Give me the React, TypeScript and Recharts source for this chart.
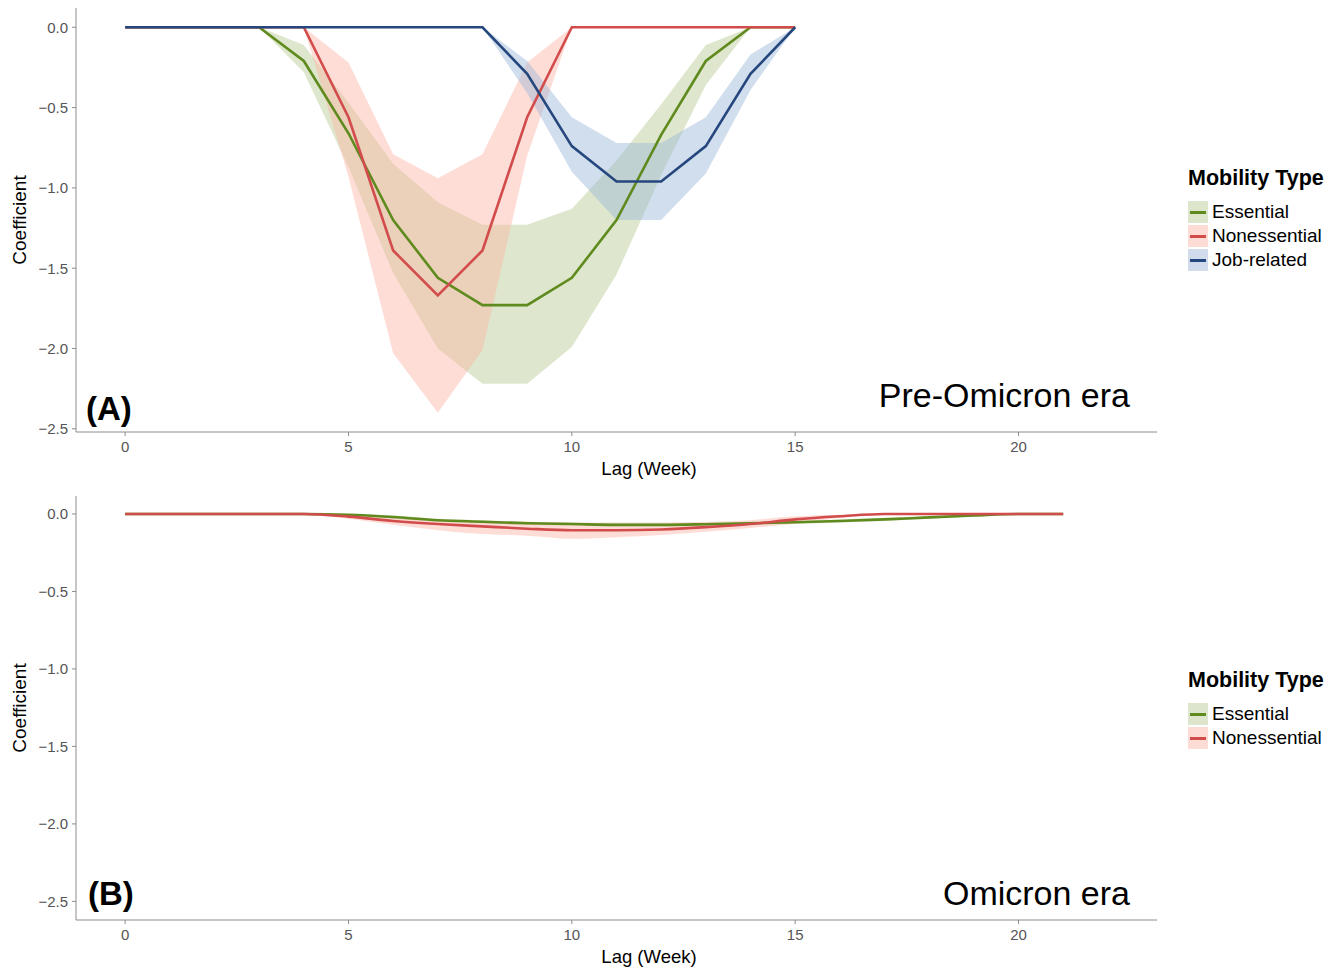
import { Area, ComposedChart, Line, XAxis, YAxis } from 'recharts'

// Panel A: pre-Omicron era, lags 0..15
const lagsA = [0, 1, 2, 3, 4, 5, 6, 7, 8, 9, 10, 11, 12, 13, 14, 15]
const essentialA = [0, 0, 0, 0, -0.21, -0.66, -1.2, -1.56, -1.73, -1.73, -1.56, -1.2, -0.67, -0.21, 0, 0]
const essentialLoA = [0, 0, 0, 0, -0.28, -0.87, -1.53, -2.0, -2.22, -2.22, -1.99, -1.54, -0.92, -0.36, 0, 0]
const essentialHiA = [0, 0, 0, 0, -0.11, -0.47, -0.85, -1.09, -1.23, -1.23, -1.13, -0.83, -0.48, -0.11, 0, 0]
const nonessentialA = [0, 0, 0, 0, 0, -0.56, -1.39, -1.67, -1.39, -0.56, 0, 0, 0, 0, 0, 0]
const nonessentialLoA = [0, 0, 0, 0, 0, -0.93, -2.03, -2.4, -2.01, -0.8, 0, 0, 0, 0, 0, 0]
const nonessentialHiA = [0, 0, 0, 0, 0, -0.22, -0.79, -0.94, -0.79, -0.22, 0, 0, 0, 0, 0, 0]
const jobA = [0, 0, 0, 0, 0, 0, 0, 0, 0, -0.29, -0.74, -0.96, -0.96, -0.74, -0.29, 0]
const jobLoA = [0, 0, 0, 0, 0, 0, 0, 0, 0, -0.41, -0.9, -1.2, -1.2, -0.91, -0.39, 0]
const jobHiA = [0, 0, 0, 0, 0, 0, 0, 0, 0, -0.21, -0.56, -0.72, -0.72, -0.56, -0.17, 0]

// Panel B: Omicron era, lags 0..21
const lagsB = [0, 1, 2, 3, 4, 5, 6, 7, 8, 9, 10, 11, 12, 13, 14, 15, 16, 17, 18, 19, 20, 21]
const essentialB = [0, 0, 0, 0, 0, -0.005, -0.02, -0.04, -0.05, -0.06, -0.065, -0.07, -0.07, -0.066, -0.06, -0.053, -0.045, -0.035, -0.022, -0.01, 0, 0]
const essentialLoB = [0, 0, 0, 0, 0, -0.01, -0.03, -0.05, -0.06, -0.07, -0.075, -0.08, -0.08, -0.076, -0.07, -0.063, -0.055, -0.045, -0.03, -0.017, 0, 0]
const essentialHiB = [0, 0, 0, 0, 0, 0, -0.01, -0.03, -0.04, -0.05, -0.055, -0.06, -0.06, -0.056, -0.05, -0.043, -0.035, -0.025, -0.014, -0.004, 0, 0]
const nonessentialB = [0, 0, 0, 0, 0, -0.017, -0.045, -0.065, -0.08, -0.095, -0.105, -0.105, -0.1, -0.085, -0.065, -0.035, -0.015, 0, 0, 0, 0, 0]
const nonessentialLoB = [0, 0, 0, 0, 0, -0.03, -0.07, -0.105, -0.13, -0.14, -0.16, -0.15, -0.135, -0.115, -0.09, -0.065, -0.025, 0, 0, 0, 0, 0]
const nonessentialHiB = [0, 0, 0, 0, 0, -0.005, -0.02, -0.035, -0.045, -0.05, -0.055, -0.055, -0.055, -0.05, -0.04, -0.015, -0.005, 0, 0, 0, 0, 0]

const xTicks = [0, 5, 10, 15, 20]
const yTicks = [0, -0.5, -1, -1.5, -2, -2.5]

const GREEN = '#5f8a1d'
const RED = '#d24c4c'
const BLUE = '#26477e'
const GREEN_BAND = '#b5c990'
const RED_BAND = '#fbb3a3'
const BLUE_BAND = '#9ab5d6'
const FONT = '"Liberation Sans", Arial, Helvetica, sans-serif'

const rowsA = lagsA.map((lag, i) => ({
  lag,
  essential: essentialA[i],
  essentialBand: [essentialLoA[i], essentialHiA[i]],
  nonessential: nonessentialA[i],
  nonessentialBand: [nonessentialLoA[i], nonessentialHiA[i]],
  job: jobA[i],
  jobBand: [jobLoA[i], jobHiA[i]],
}))

const rowsB = lagsB.map((lag, i) => ({
  lag,
  essential: essentialB[i],
  essentialBand: [essentialLoB[i], essentialHiB[i]],
  nonessential: nonessentialB[i],
  nonessentialBand: [nonessentialLoB[i], nonessentialHiB[i]],
}))

const fmtY = (v: number) => (v < 0 ? '\u2212' + Math.abs(v).toFixed(1) : v.toFixed(1))

type Item = { label: string; line: string; band: string }

function LegendBox({ top, items }: { top: number; items: Item[] }) {
  return (
    <div style={{ position: 'absolute', left: 1188, top, fontFamily: FONT, color: '#000' }}>
      <div style={{ fontWeight: 'bold', fontSize: 21.5, marginBottom: 9, whiteSpace: 'nowrap' }}>Mobility Type</div>
      {items.map((it) => (
        <div key={it.label} style={{ display: 'flex', alignItems: 'center', height: 24 }}>
          <div style={{ width: 20, height: 22, background: it.band, position: 'relative' }}>
            <div style={{ position: 'absolute', left: 2, right: 2, top: 10, height: 2.5, background: it.line }} />
          </div>
          <span style={{ fontSize: 19, marginLeft: 4, whiteSpace: 'nowrap' }}>{it.label}</span>
        </div>
      ))}
    </div>
  )
}

function Panel({
  top,
  data,
  yDomain,
  smooth,
  withJob,
}: {
  top: number
  data: any[]
  yDomain: [number, number]
  smooth: boolean
  withJob: boolean
}) {
  const kind = smooth ? 'monotone' : 'linear'
  return (
    <div style={{ position: 'absolute', left: 0, top }}>
      <ComposedChart width={1336} height={480} data={data} margin={{ top: 8, right: 179, bottom: 0, left: 0 }}>
        <XAxis
          dataKey="lag"
          type="number"
          domain={[-1.1, 23.1]}
          ticks={xTicks}
          allowDataOverflow
          height={48}
          tickSize={4}
          tickMargin={5}
          stroke="#8c8c8c"
          tick={{ fill: '#555', fontSize: 15, fontFamily: FONT }}
        />
        <YAxis
          type="number"
          domain={yDomain}
          ticks={yTicks}
          allowDataOverflow
          width={76}
          tickSize={4}
          tickMargin={4}
          tickFormatter={fmtY}
          stroke="#8c8c8c"
          tick={{ fill: '#555', fontSize: 15, fontFamily: FONT }}
        />
        <Area dataKey="essentialBand" type={kind} stroke="none" fill={GREEN_BAND} fillOpacity={0.45} isAnimationActive={false} activeDot={false} />
        <Area dataKey="nonessentialBand" type={kind} stroke="none" fill={RED_BAND} fillOpacity={0.45} isAnimationActive={false} activeDot={false} />
        {withJob && (
          <Area dataKey="jobBand" type={kind} stroke="none" fill={BLUE_BAND} fillOpacity={0.45} isAnimationActive={false} activeDot={false} />
        )}
        <Line dataKey="essential" type={kind} stroke={GREEN} strokeWidth={2.6} dot={false} activeDot={false} isAnimationActive={false} />
        <Line dataKey="nonessential" type={kind} stroke={RED} strokeWidth={2.6} dot={false} activeDot={false} isAnimationActive={false} />
        {withJob && (
          <Line dataKey="job" type={kind} stroke={BLUE} strokeWidth={2.6} dot={false} activeDot={false} isAnimationActive={false} />
        )}
      </ComposedChart>
      <div
        style={{
          position: 'absolute',
          left: 20,
          top: 220,
          transform: 'translate(-50%, -50%) rotate(-90deg)',
          fontFamily: FONT,
          fontSize: 19,
          whiteSpace: 'nowrap',
        }}
      >
        Coefficient
      </div>
      <div
        style={{
          position: 'absolute',
          left: 649,
          top: 469,
          transform: 'translate(-50%, -50%)',
          fontFamily: FONT,
          fontSize: 18.5,
          whiteSpace: 'nowrap',
        }}
      >
        Lag (Week)
      </div>
    </div>
  )
}

export default function App() {
  return (
    <div style={{ position: 'absolute', left: 0, top: 0, width: 1336, height: 970, background: '#fff' }}>
      <Panel top={0} data={rowsA} yDomain={[-2.52, 0.12]} smooth={false} withJob />
      <Panel top={488} data={rowsB} yDomain={[-2.62, 0.116]} smooth withJob={false} />

      <div style={{ position: 'absolute', left: 86, top: 390, fontFamily: FONT, fontWeight: 'bold', fontSize: 33 }}>(A)</div>
      <div style={{ position: 'absolute', right: 1336 - 1130, top: 376, fontFamily: FONT, fontSize: 34, whiteSpace: 'nowrap' }}>
        Pre-Omicron era
      </div>
      <div style={{ position: 'absolute', left: 88, top: 875, fontFamily: FONT, fontWeight: 'bold', fontSize: 33 }}>(B)</div>
      <div style={{ position: 'absolute', right: 1336 - 1130, top: 874, fontFamily: FONT, fontSize: 34, whiteSpace: 'nowrap' }}>
        Omicron era
      </div>

      <LegendBox
        top={166}
        items={[
          { label: 'Essential', line: GREEN, band: '#dde6cc' },
          { label: 'Nonessential', line: RED, band: '#fddcd5' },
          { label: 'Job-related', line: BLUE, band: '#d0dcec' },
        ]}
      />
      <LegendBox
        top={668}
        items={[
          { label: 'Essential', line: GREEN, band: '#dde6cc' },
          { label: 'Nonessential', line: RED, band: '#fddcd5' },
        ]}
      />
    </div>
  )
}
